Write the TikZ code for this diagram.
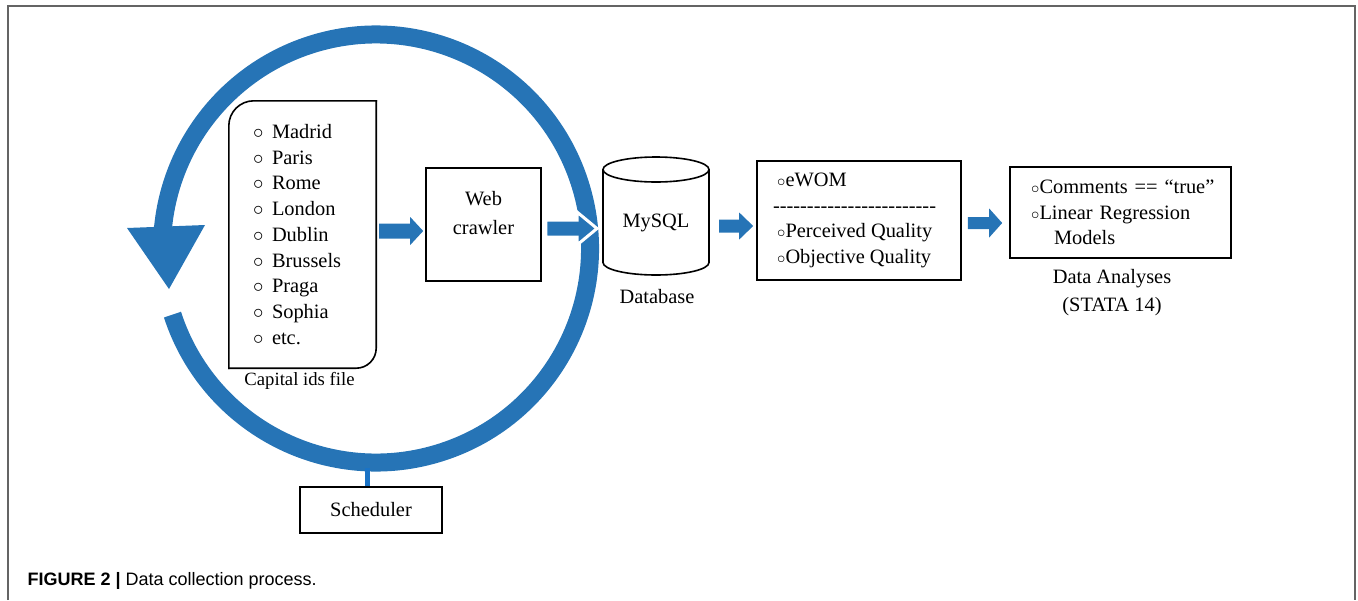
\documentclass[tikz,border=0pt]{standalone}
\usepackage{fontspec}
\usepackage{graphicx}
\setmainfont{Liberation Serif}
\setsansfont{Liberation Sans}
\usetikzlibrary{calc}
\definecolor{ringblue}{RGB}{38,116,182}
\definecolor{linkblue}{RGB}{26,115,198}
\definecolor{framegray}{RGB}{100,100,100}
\newcommand\bul{\makebox[19pt][l]{$\circ$}}
\newcommand\sbul{\makebox[8.5pt][l]{\scalebox{0.8}{$\circ$}}}
\newcommand\dashrow{-{}-{}-{}-{}-{}-{}-{}-{}-{}-{}-{}-{}-{}-{}-{}-{}-{}-{}-{}-{}-{}-{}-{}-{}}
% #1 options, #2 start coord, #3 tip coord, #4 half shaft, #5 half head, #6 head length
\newcommand\blockarrow[6]{%
  \path[fill=ringblue,#1] ($(#2)+(0,-#4)$) -- ($(#3)+(-#6,-#4)$) -- ($(#3)+(-#6,-#5)$) -- (#3)
    -- ($(#3)+(-#6,#5)$) -- ($(#3)+(-#6,#4)$) -- ($(#2)+(0,#4)$) -- cycle;}
\tikzset{
  txt/.style={font=\fontsize{20.4}{25.75}\selectfont},
  box/.style={draw=black, line width=1.6pt},
  boxline/.style={draw=black, line width=1.6pt, line cap=rect},
}
\begin{document}
\begin{tikzpicture}[x=1pt,y=-1pt]
\useasboundingbox (0,0) rectangle (1358,600);
% frame
\draw[framegray, line width=1.5pt] (8,600) -- (8,6) -- (1355,6) -- (1355,600);

% ring with arrow head
\coordinate (rc) at (376,248.5);
\draw[ringblue, line width=18pt] (rc) ++(162:214) arc[start angle=162, end angle=-176, radius=214];
\fill[ringblue] (127,228) -- (205,225) -- (169,289) -- cycle;

% capital ids file
\node[txt, minimum width=147pt, minimum height=267pt, inner sep=0pt] (cap) at (302.5,234.5)
  {\raisebox{2.5pt}{\parbox{99pt}{\raggedright\bul Madrid\\ \bul Paris\\ \bul Rome\\ \bul London\\ \bul Dublin\\ \bul Brussels\\ \bul Praga\\ \bul Sophia\\ \bul etc.}}};
\draw[boxline, rounded corners=25pt] (cap.north east) -- (cap.north west) -- (cap.south west);
\draw[boxline, rounded corners=20pt] (cap.south west) -- (cap.south east) -- (cap.north east);
\node[font=\fontsize{18.7}{22}\selectfont] (capl) at ($(cap.south)+(-3,13)$) {Capital ids file};

% web crawler
\node[box, minimum width=115pt, minimum height=113pt,
  label={[txt, align=center, font=\fontsize{20.4}{29}\selectfont, yshift=11pt]center:Web\\crawler}] (web) at (483.5,224.5) {};

% database cylinder
\node[txt] (db) at (656,223) {MySQL};
\draw[box] ($(db)+(-53,-53.5)$) -- ($(db)+(-53,39.5)$) arc[start angle=180, end angle=0, x radius=53, y radius=12.5]
  -- ($(db)+(53,-53.5)$);
\draw[box] ($(db)+(0,-53.5)$) ellipse[x radius=53, y radius=12.5];
\node[txt] (dbl) at ($(db)+(1,74)$) {Database};

% eWOM box
\node[box, txt, minimum width=204pt, minimum height=119pt, inner sep=0pt] (ewom) at (859,220.5)
  {\raisebox{-2.5pt}{\parbox{164pt}{\raggedright\sbul eWOM\\ \hspace*{-4pt}\dashrow\\ \sbul Perceived Quality\\ \sbul Objective Quality}}};

% data analyses box
\node[box, txt, minimum width=221pt, minimum height=91pt, inner xsep=8pt, text width=205pt, align=left] (data) at (1120.5,212.5)
  {\hspace*{13pt}\sbul Comments == ``true''\\ \hspace*{13pt}\sbul Linear Regression\\ \hspace*{36pt}Models};
\node[align=center, font=\fontsize{20.4}{28}\selectfont] (datal) at (1112,293) {Data Analyses\\(STATA 14)};

% scheduler
\node[box, txt, minimum width=142pt, minimum height=46pt] (sched) at (371,510) {Scheduler};
\coordinate (ringbot) at (367,468);
\draw[linkblue, line width=5pt] (ringbot) -- (ringbot |- sched.north);

% block arrows
\coordinate (a1s) at ($(cap.east)+(3,-3.5)$);
\coordinate (a1e) at ($(web.west)+(-2,6.5)$);
\coordinate (a2s) at ($(web.east)+(4,4)$);
\coordinate (a2e) at ($(db)+(-59,5.5)$);
\coordinate (a3s) at ($(db)+(63,3)$);
\coordinate (a3e) at ($(ewom.west)+(-3,5.5)$);
\coordinate (a4s) at ($(ewom.east)+(6,2.5)$);
\coordinate (a4e) at ($(data.west)+(-7,10.5)$);
\blockarrow{}{a1s}{a1e}{7.5}{14}{13}
\blockarrow{draw=white, line width=3pt, line join=miter}{a2s}{a2e}{8.5}{16.5}{20}
\blockarrow{}{a3s}{a3e}{6.5}{13.5}{14}
\blockarrow{}{a4s}{a4e}{6}{14.5}{13}

% caption
\node[anchor=base west, font=\sffamily\fontsize{18}{20}\selectfont] (caption) at (24,585)
  {\textbf{FIGURE 2 |} Data collection process.};
\end{tikzpicture}
\end{document}
